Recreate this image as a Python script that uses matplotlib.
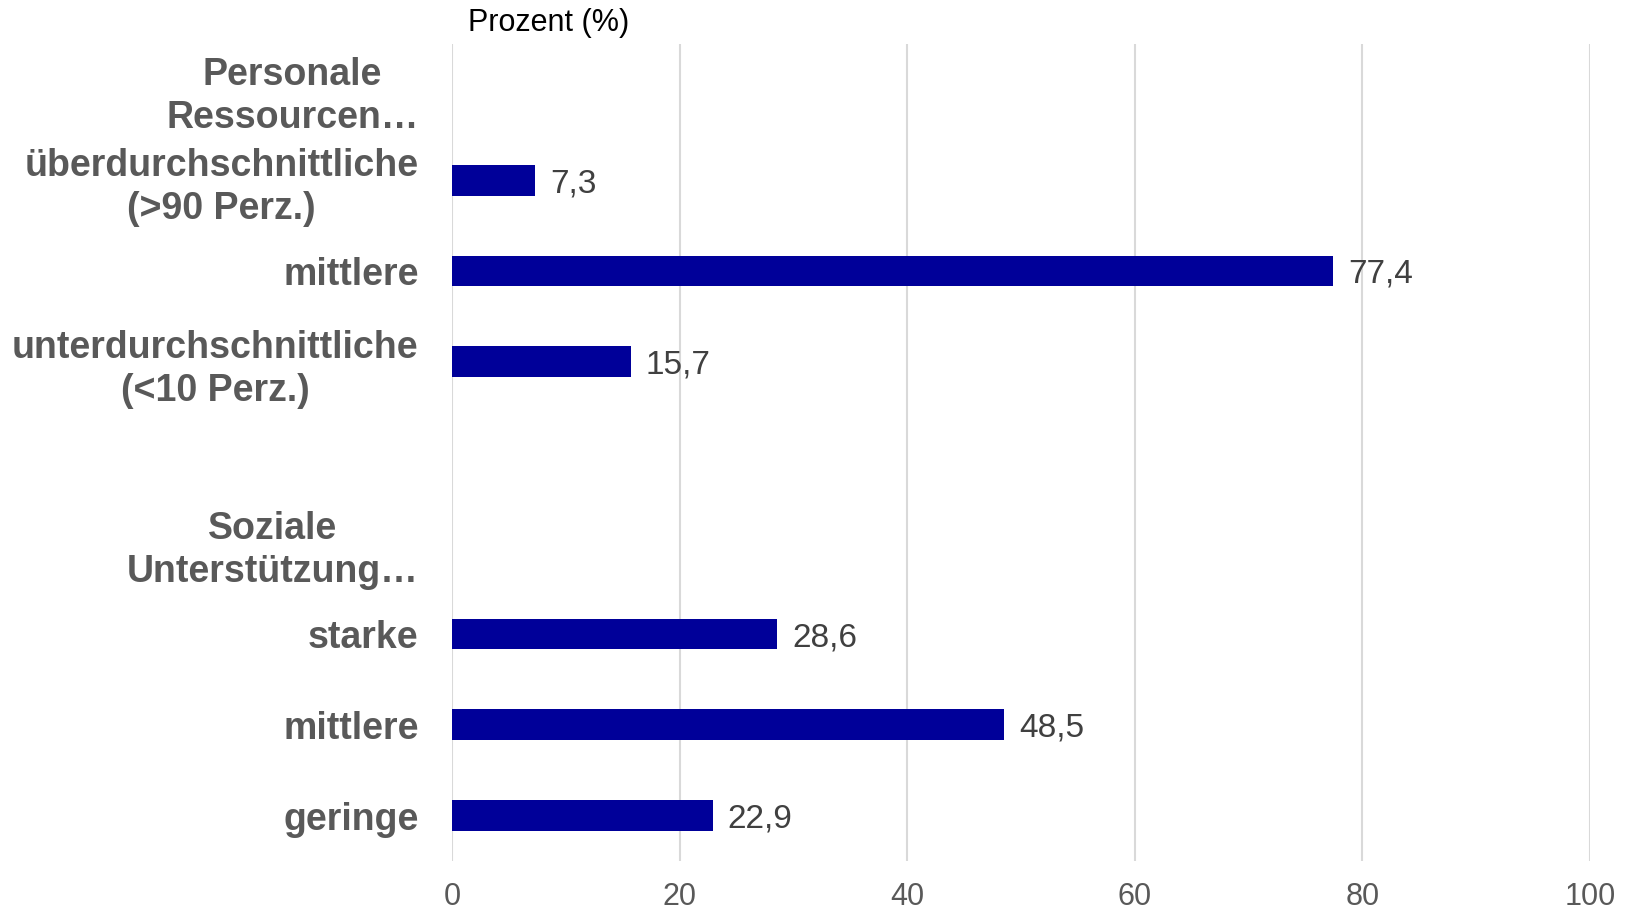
import matplotlib.pyplot as plt
import numpy as np

# categories top to bottom; header rows and the spacer have no value
labels = ['Personale\nRessourcen…', 'überdurchschnittliche\n(>90 Perz.)', 'mittlere',
          'unterdurchschnittliche\n(<10 Perz.)', '', 'Soziale\nUnterstützung…',
          'starke', 'mittlere', 'geringe']
values = [np.nan, 7.3, 77.4, 15.7, np.nan, np.nan, 28.6, 48.5, 22.9]
xticks = [0, 20, 40, 60, 80, 100]

plt.rcParams['font.family'] = ['Liberation Sans', 'DejaVu Sans']

fig = plt.figure(figsize=(16.3, 9.09), dpi=100)
ax = fig.add_axes([0.2773, 0.0528, 0.6982, 0.8988])

y = np.arange(len(labels))
vals = np.array(values)
has = ~np.isnan(vals)
ax.barh(y[has], vals[has], height=0.34, color='#000099', zorder=3)

for yi, v in zip(y[has], vals[has]):
    ax.annotate(('%.1f' % v).replace('.', ','), xy=(v, yi), xytext=(15, 0),
                textcoords='offset pixels', va='center_baseline', ha='left',
                fontsize=24, color='#404040')

ax.set_xlim(0, 100)
ax.set_ylim(len(labels) - 0.5, -0.5)
ax.set_xticks(xticks)
ax.set_xticklabels([str(t) for t in xticks], fontsize=22, color='#595959')
ax.set_yticks(y)
ax.set_yticklabels(labels, fontsize=27, fontweight='bold', color='#595959')
for lab in ax.get_yticklabels():
    lab.set_multialignment('center')
    lab.set_linespacing(1.25)
ax.tick_params(axis='both', length=0)
ax.tick_params(axis='x', pad=15)
ax.tick_params(axis='y', pad=24)

ax.grid(axis='x', color='#d9d9d9', linewidth=1.5, zorder=0)
ax.grid(axis='y', visible=False)
for s in ax.spines.values():
    s.set_visible(False)

fig.text(549 / 1630, 1 - 23 / 909, 'Prozent (%)', ha='center', va='center',
         fontsize=22, color='black')

fig.savefig('out.png', dpi=100)
